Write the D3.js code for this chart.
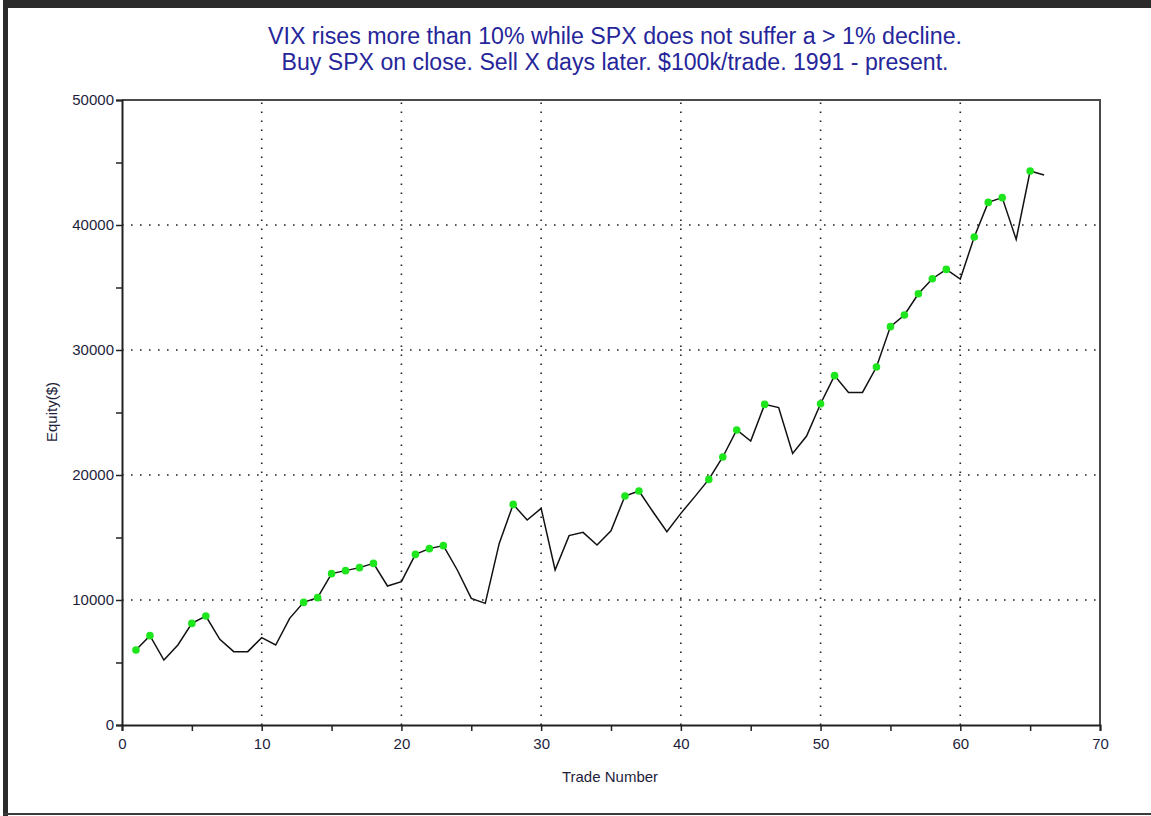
<!DOCTYPE html>
<html>
<head>
<meta charset="utf-8">
<script src="https://cdn.jsdelivr.net/npm/d3@7"></script>
<style>
  body { margin: 0; background: #fff; }
  svg { display: block; font-family: "Liberation Sans", Arial, sans-serif; }
</style>
</head>
<body>
<script>
// trade numbers and equity curve
const trades = d3.range(1, 67);
const equity = [
    6000, 7150, 5200, 6400, 8130, 8720, 6850, 5870, 5870, 6990,
    6400, 8530, 9810, 10190, 12110, 12350, 12590, 12930, 11120, 11470,
    13650, 14110, 14350, 12400, 10130, 9730, 14530, 17650, 16400, 17330,
    12400, 15150, 15410, 14400, 15540, 18320, 18720, 17060, 15470, 16930,
    18270, 19650, 21440, 23600, 22720, 25650, 25390, 21730, 23120, 25700,
    27950, 26610, 26610, 28640, 31870, 32800, 34500, 35700, 36450, 35680,
    39040, 41810, 42190, 38850, 44320, 44000
];
// trades that closed at a new equity high (green dots)
const highTrades = [1, 2, 5, 6, 13, 14, 15, 16, 17, 18, 21, 22, 23, 28, 36, 37,
    42, 43, 44, 46, 50, 51, 54, 55, 56, 57, 58, 59, 61, 62, 63, 65];

const xTicks = [0, 10, 20, 30, 40, 50, 60, 70];
const yTicks = [0, 10000, 20000, 30000, 40000, 50000];

const titleLines = [
    "VIX rises more than 10% while SPX does not suffer a > 1% decline.",
    "Buy SPX on close. Sell X days later. $100k/trade. 1991 - present."
];

const w = 1151, h = 816;
const plotL = 122, plotR = 1100, plotT = 100, plotB = 725;

const svg = d3.select('body').append('svg')
    .attr('width', w)
    .attr('height', h);

svg.append('rect').attr('width', w).attr('height', h).attr('fill', '#fff');

// window frame
svg.append('rect').attr('x', 3).attr('y', 0).attr('width', w - 3).attr('height', 8).attr('fill', '#2b2b2b');
svg.append('rect').attr('x', 3).attr('y', 0).attr('width', 5).attr('height', h).attr('fill', '#2b2b2b');
svg.append('rect').attr('x', 3).attr('y', 813).attr('width', w - 3).attr('height', 2).attr('fill', '#3a3a3a');

const x = d3.scaleLinear().domain([0, 70]).range([plotL, plotR]);
const y = d3.scaleLinear().domain([0, 50000]).range([plotB, plotT]);

// title
svg.append('g').selectAll('text')
    .data(titleLines)
    .join('text')
    .attr('x', 615)
    .attr('y', (d, i) => 44 + i * 26)
    .attr('text-anchor', 'middle')
    .attr('fill', '#26269a')
    .style('font-size', '23px')
    .attr('textLength', (d, i) => i === 0 ? 694 : 667)
    .attr('lengthAdjust', 'spacingAndGlyphs')
    .text(d => d);

// dotted grid
const grid = svg.append('g')
    .attr('stroke', '#222')
    .attr('stroke-width', 1.6)
    .attr('stroke-dasharray', '1.6,7.4');
grid.selectAll('.gx')
    .data(xTicks.filter(d => d > 0 && d < 70))
    .join('line')
    .attr('x1', d => x(d)).attr('x2', d => x(d))
    .attr('y1', plotB).attr('y2', plotT);
grid.selectAll('.gy')
    .data(yTicks.filter(d => d > 0 && d < 50000))
    .join('line')
    .attr('x1', plotL).attr('x2', plotR)
    .attr('y1', d => y(d)).attr('y2', d => y(d));

// top and right border of the plot box
svg.append('path')
    .attr('d', `M${plotL},${plotT}H${plotR}V${plotB}`)
    .attr('fill', 'none')
    .attr('stroke', '#4a4a4a')
    .attr('stroke-width', 2);

// axes
const xAxis = svg.append('g')
    .attr('transform', `translate(0,${plotB})`)
    .call(d3.axisBottom(x).tickValues(d3.range(0, 71, 5)).tickSize(6).tickPadding(7)
        .tickFormat(d => d % 10 === 0 ? d : ''));
const yAxis = svg.append('g')
    .attr('transform', `translate(${plotL},0)`)
    .call(d3.axisLeft(y).tickValues(d3.range(0, 50001, 5000)).tickSize(6).tickPadding(2)
        .tickFormat(d => d % 10000 === 0 ? d : ''));

[xAxis, yAxis].forEach(g => {
    g.select('.domain').attr('stroke', '#222').attr('stroke-width', 2);
    g.selectAll('.tick line').attr('stroke', '#222').attr('stroke-width', 1.5);
    g.selectAll('.tick text')
        .attr('fill', '#1e1e3c')
        .style('font-family', '"Liberation Sans", Arial, sans-serif')
        .style('font-size', '15px');
});

// axis titles
svg.append('text')
    .attr('transform', 'translate(57,412) rotate(-90)')
    .attr('text-anchor', 'middle')
    .attr('fill', '#1e1e3c')
    .style('font-size', '15px')
    .text('Equity($)');
svg.append('text')
    .attr('x', 610)
    .attr('y', 782)
    .attr('text-anchor', 'middle')
    .attr('fill', '#1e1e3c')
    .style('font-size', '15px')
    .text('Trade Number');

// equity line
const points = trades.map((t, i) => [t, equity[i]]);
svg.append('path')
    .datum(points)
    .attr('fill', 'none')
    .attr('stroke', '#111')
    .attr('stroke-width', 1.5)
    .attr('d', d3.line().x(d => x(d[0])).y(d => y(d[1])));

// new-high markers
svg.append('g').selectAll('circle')
    .data(points.filter(d => highTrades.includes(d[0])))
    .join('circle')
    .attr('cx', d => x(d[0]))
    .attr('cy', d => y(d[1]))
    .attr('r', 3.8)
    .attr('fill', '#1de61d');
</script>
</body>
</html>
